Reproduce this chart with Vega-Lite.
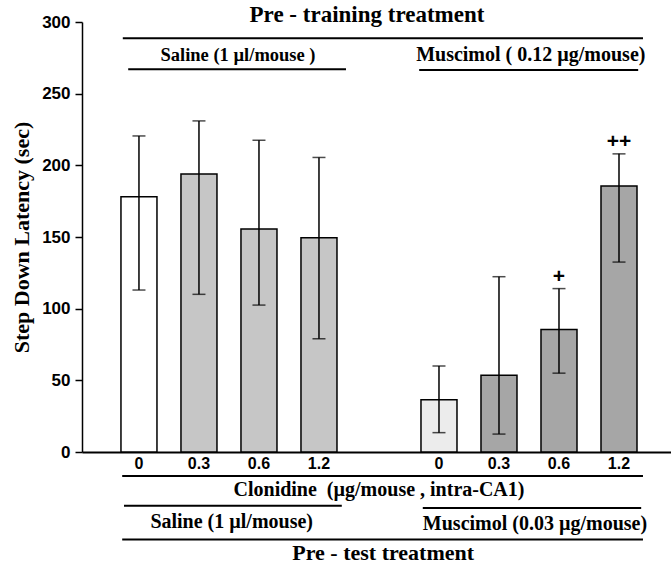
{
  "$schema": "https://vega.github.io/schema/vega-lite/v6.json",
  "width": 589,
  "height": 430,
  "autosize": {"type": "none"},
  "padding": {"left": 82, "top": 22, "right": 0, "bottom": 112},
  "background": "white",
  "config": {"view": {"stroke": null}, "axis": {"grid": false}},
  "datasets": {
    "bars": [
      {"cat": "Saline 0", "pretrain": "Saline", "clonidine": "0", "group": "Saline + Saline", "latency": 178, "lo": 113, "hi": 220.5, "sig": ""},
      {"cat": "Saline 0.3", "pretrain": "Saline", "clonidine": "0.3", "group": "Saline + Clonidine", "latency": 194, "lo": 110, "hi": 231, "sig": ""},
      {"cat": "Saline 0.6", "pretrain": "Saline", "clonidine": "0.6", "group": "Saline + Clonidine", "latency": 155.5, "lo": 102.5, "hi": 217.5, "sig": ""},
      {"cat": "Saline 1.2", "pretrain": "Saline", "clonidine": "1.2", "group": "Saline + Clonidine", "latency": 149.5, "lo": 79, "hi": 205.5, "sig": ""},
      {"cat": "Muscimol 0", "pretrain": "Muscimol", "clonidine": "0", "group": "Muscimol + Muscimol", "latency": 36.5, "lo": 13.5, "hi": 60, "sig": ""},
      {"cat": "Muscimol 0.3", "pretrain": "Muscimol", "clonidine": "0.3", "group": "Muscimol + Muscimol + Clonidine", "latency": 53.5, "lo": 12.5, "hi": 122.3, "sig": ""},
      {"cat": "Muscimol 0.6", "pretrain": "Muscimol", "clonidine": "0.6", "group": "Muscimol + Muscimol + Clonidine", "latency": 85.5, "lo": 55, "hi": 114, "sig": "+"},
      {"cat": "Muscimol 1.2", "pretrain": "Muscimol", "clonidine": "1.2", "group": "Muscimol + Muscimol + Clonidine", "latency": 185.5, "lo": 132.5, "hi": 208, "sig": "++"}
    ],
    "lines": [
      {"k1": -0.27, "k2": 8.4, "v": 288.6},
      {"k1": -0.18, "k2": 3.45, "v": 267},
      {"k1": 4.67, "k2": 8.32, "v": 266.5},
      {"k1": -0.28, "k2": 8.4, "v": -16.7},
      {"k1": -0.25, "k2": 3.38, "v": -37.5},
      {"k1": 4.73, "k2": 8.37, "v": -39},
      {"k1": -0.28, "k2": 8.4, "v": -61}
    ],
    "labels": [
      {"text": "Pre - training treatment", "k": 3.8, "v": 304.6, "level": "main"},
      {"text": "Saline (1 µl/mouse )", "k": 1.65, "v": 277, "level": "top-saline"},
      {"text": "Muscimol ( 0.12 µg/mouse)", "k": 6.53, "v": 277, "level": "sub"},
      {"text": "Clonidine\u00a0 (µg/mouse , intra-CA1)", "k": 4.0, "v": -26.5, "level": "sub"},
      {"text": "Saline (1 µl/mouse)", "k": 1.545, "v": -48.6, "level": "sub"},
      {"text": "Muscimol (0.03 µg/mouse)", "k": 6.6, "v": -50.2, "level": "sub"},
      {"text": "Pre - test treatment", "k": 4.07, "v": -70.2, "level": "bottom"}
    ]
  },
  "layer": [
    {
      "data": {"name": "bars"},
      "encoding": {
        "x": {
          "field": "cat",
          "type": "nominal",
          "sort": null,
          "scale": {
            "domain": ["Saline 0", "Saline 0.3", "Saline 0.6", "Saline 1.2", "—", "Muscimol 0", "Muscimol 0.3", "Muscimol 0.6", "Muscimol 1.2"],
            "paddingInner": 0.4,
            "paddingOuter": 0.608,
            "align": 0.534
          },
          "axis": {
            "title": null,
            "labelAngle": 0,
            "labelExpr": "datum.value == '—' ? '' : split(datum.value, ' ')[1]",
            "labelFont": "Liberation Sans",
            "labelFontWeight": "bold",
            "labelFontSize": 16,
            "labelColor": "black",
            "labelPadding": 3,
            "ticks": false,
            "tickSize": 0,
            "domainColor": "black",
            "domainWidth": 2
          }
        }
      },
      "layer": [
        {
          "mark": {"type": "bar", "stroke": "black", "strokeWidth": 1.5},
          "encoding": {
            "y": {
              "field": "latency",
              "type": "quantitative",
              "scale": {"domain": [0, 300], "nice": false},
              "axis": {
                "title": "Step Down Latency (sec)",
                "values": [0, 50, 100, 150, 200, 250, 300],
                "labelFont": "Liberation Sans",
                "labelFontWeight": "bold",
                "labelFontSize": 17,
                "labelColor": "black",
                "labelPadding": 5,
                "tickColor": "black",
                "tickSize": 7,
                "tickWidth": 1.5,
                "domainColor": "black",
                "domainWidth": 1.5,
                "titleFont": "Liberation Serif",
                "titleFontSize": 22,
                "titleFontWeight": "bold",
                "titleColor": "black",
                "titlePadding": 8
              }
            },
            "fill": {
              "field": "group",
              "type": "nominal",
              "scale": {
                "domain": ["Saline + Saline", "Saline + Clonidine", "Muscimol + Muscimol", "Muscimol + Muscimol + Clonidine"],
                "range": ["#ffffff", "#c6c6c6", "#ececec", "#a6a6a6"]
              },
              "legend": null
            }
          }
        },
        {
          "mark": {"type": "rule", "color": "black", "strokeWidth": 1.5},
          "encoding": {
            "y": {"field": "lo", "type": "quantitative"},
            "y2": {"field": "hi"}
          }
        },
        {
          "mark": {"type": "tick", "color": "black", "size": 13, "thickness": 1.5},
          "encoding": {
            "y": {"field": "hi", "type": "quantitative"}
          }
        },
        {
          "mark": {"type": "tick", "color": "black", "size": 13, "thickness": 1.5},
          "encoding": {
            "y": {"field": "lo", "type": "quantitative"}
          }
        },
        {
          "mark": {"type": "text", "font": "Liberation Sans", "fontWeight": "bold", "fontSize": 21, "fill": "black", "baseline": "alphabetic", "dy": -6},
          "encoding": {
            "y": {"field": "hi", "type": "quantitative"},
            "text": {"field": "sig"}
          }
        }
      ]
    },
    {
      "data": {"name": "lines"},
      "mark": {"type": "rule", "color": "black", "strokeWidth": 2},
      "encoding": {
        "x": {"field": "k1", "type": "quantitative", "scale": {"domain": [-0.95, 8.867], "nice": false, "zero": false}, "axis": null},
        "x2": {"field": "k2"},
        "y": {"field": "v", "type": "quantitative", "scale": {"domain": [0, 300], "nice": false}, "axis": null}
      }
    },
    {
      "data": {"name": "labels"},
      "encoding": {
        "x": {"field": "k", "type": "quantitative", "scale": {"domain": [-0.95, 8.867], "nice": false, "zero": false}, "axis": null},
        "y": {"field": "v", "type": "quantitative", "scale": {"domain": [0, 300], "nice": false}, "axis": null},
        "text": {"field": "text"}
      },
      "layer": [
        {
          "transform": [{"filter": "datum.level == 'main'"}],
          "mark": {"type": "text", "font": "Liberation Serif", "fontWeight": "bold", "fontSize": 23, "fill": "black", "baseline": "middle", "align": "center"}
        },
        {
          "transform": [{"filter": "datum.level == 'bottom'"}],
          "mark": {"type": "text", "font": "Liberation Serif", "fontWeight": "bold", "fontSize": 22, "fill": "black", "baseline": "middle", "align": "center"}
        },
        {
          "transform": [{"filter": "datum.level == 'sub'"}],
          "mark": {"type": "text", "font": "Liberation Serif", "fontWeight": "bold", "fontSize": 20, "fill": "black", "baseline": "middle", "align": "center"}
        },
        {
          "transform": [{"filter": "datum.level == 'top-saline'"}],
          "mark": {"type": "text", "font": "Liberation Serif", "fontWeight": "bold", "fontSize": 18.5, "fill": "black", "baseline": "middle", "align": "center"}
        }
      ]
    }
  ],
  "resolve": {"scale": {"x": "independent", "y": "independent"}}
}
